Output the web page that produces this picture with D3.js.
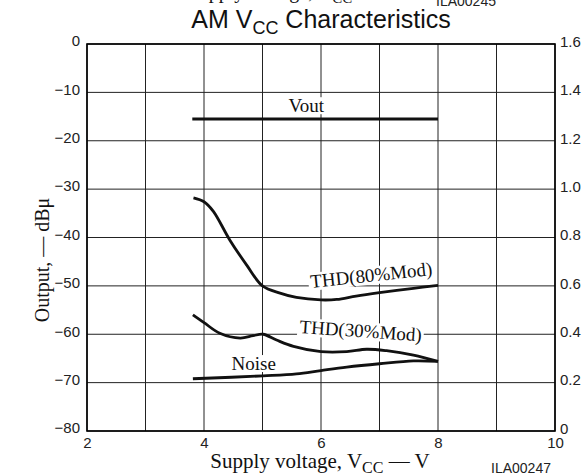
<!DOCTYPE html>
<html><head><meta charset="utf-8">
<script src="https://cdn.jsdelivr.net/npm/d3@7"></script>
<style>body{margin:0;background:#fff}svg{display:block}</style>
</head><body><svg id="c" width="584" height="475"></svg>
<script>
// ---- data ----
const xGrid = [2,3,4,5,6,7,8,9,10];
const xTickLabels = [2,4,6,8,10];
const yLeftTicks = [0,-10,-20,-30,-40,-50,-60,-70,-80];
const yRightTicks = [1.6,1.4,1.2,1.0,0.8,0.6,0.4,0.2,0];
const yRightLabels = ["1.6","1.4","1.2","1.0","0.8","0.6","0.4","0.2","0"];
const voutX = [3.8, 8.0];
const voutY = [-15.5, -15.5];
const thd80X = [3.82,4.0,4.16,4.44,4.73,5.0,5.3,5.58,6.0,6.27,6.6,7.0,7.58,8.0];
const thd80Y = [-31.8,-32.6,-34.6,-40.5,-45.7,-50.0,-51.5,-52.4,-52.9,-52.8,-52.1,-51.4,-50.5,-49.9];
const thd30X = [3.81,4.0,4.27,4.62,4.84,5.01,5.24,5.53,6.0,6.44,6.78,7.12,7.58,8.0];
const thd30Y = [-56.0,-57.6,-59.8,-60.8,-60.3,-60.0,-61.2,-62.5,-63.6,-63.6,-63.1,-63.4,-64.3,-65.6];
const noiseX = [3.81,5.01,5.58,6.0,6.44,7.0,7.58,8.0];
const noiseY = [-69.2,-68.6,-68.2,-67.5,-66.8,-66.1,-65.5,-65.6];
const labelText = ["Vout","THD(80%Mod)","THD(30%Mod)","Noise"];
const labelX = [5.75, 6.87, 6.67, 4.85];
const labelY = [-14.1, -49.1, -60.6, -67.4];
const labelRot = [0, -6, 4, 0];

// ---- layout ----
const L = 87, R = 555, T = 44, B = 431;
const svg = d3.select("#c");
const x = d3.scaleLinear().domain([2,10]).range([L,R]);
const y = d3.scaleLinear().domain([-80,0]).range([B,T]);
const y2 = d3.scaleLinear().domain([0,1.6]).range([B,T]);
const serif = "'Liberation Serif','Times New Roman',serif";
const sans = "'Liberation Sans',Arial,sans-serif";

// grid
svg.append("g").selectAll("line").data(xGrid).join("line")
  .attr("x1", d=>x(d)).attr("x2", d=>x(d)).attr("y1", T).attr("y2", B)
  .attr("stroke", "#222").attr("stroke-width", 1);
svg.append("g").selectAll("line").data(yLeftTicks).join("line")
  .attr("x1", L).attr("x2", R).attr("y1", d=>y(d)).attr("y2", d=>y(d))
  .attr("stroke", "#222").attr("stroke-width", 1);
svg.append("rect").attr("x", L).attr("y", T).attr("width", R-L).attr("height", B-T)
  .attr("fill", "none").attr("stroke", "#000").attr("stroke-width", 1.6);

// axes labels via d3 axes (no domain/ticks lines)
const axL = svg.append("g").attr("transform", `translate(${L},0)`)
  .call(d3.axisLeft(y).tickValues(yLeftTicks).tickSize(0).tickPadding(7).tickFormat(d=>d===0?"0":("\u2212"+Math.abs(d))));
const axR = svg.append("g").attr("transform", `translate(${R},0)`)
  .call(d3.axisRight(y2).tickValues(yRightTicks).tickSize(0).tickPadding(5).tickFormat((d,i)=>yRightLabels[i]));
const axB = svg.append("g").attr("transform", `translate(0,${B})`)
  .call(d3.axisBottom(x).tickValues(xTickLabels).tickSize(0).tickPadding(6));
[axL, axR, axB].forEach(a => {
  a.select(".domain").remove();
  a.selectAll("text").attr("font-family", sans).attr("font-size", 15).attr("fill", "#222");
});
axL.selectAll("text").attr("dy", "0.12em");
axR.selectAll("text").attr("dy", "0.15em");

// curves
const line = d3.line().x(d=>x(d[0])).y(d=>y(d[1])).curve(d3.curveCatmullRom.alpha(0.5));
const series = [[voutX,voutY],[thd80X,thd80Y],[thd30X,thd30Y],[noiseX,noiseY]];
series.forEach(([xs,ys]) => {
  svg.append("path").datum(xs.map((v,i)=>[v,ys[i]])).attr("d", line)
    .attr("fill", "none").attr("stroke", "#111").attr("stroke-width", 2.8)
    .attr("stroke-linecap", "butt");
});

// labels with white boxes
labelText.forEach((t,i) => {
  const g = svg.append("g").attr("transform", `translate(${x(labelX[i])},${y(labelY[i])}) rotate(${labelRot[i]})`);
  const tx = g.append("text").text(t).attr("text-anchor", "middle")
    .attr("font-family", serif).attr("font-size", 19).attr("fill", "#111");
  const bb = tx.node().getBBox();
  g.insert("rect", "text").attr("x", bb.x-2).attr("y", bb.y+2).attr("width", bb.width+4).attr("height", bb.height-4).attr("fill", "#fff");
});

// title
const title = svg.append("text").attr("x", 321).attr("y", 28).attr("text-anchor", "middle")
  .attr("font-family", sans).attr("font-size", 25).attr("fill", "#111");
title.append("tspan").text("AM V");
title.append("tspan").text("CC").attr("font-size", 18).attr("dy", 6);
title.append("tspan").text(" Characteristics").attr("dy", -6);

// cut-off text at top (remnant of previous figure)
const topT = svg.append("text").attr("x", 292).attr("y", -2).attr("text-anchor", "middle")
  .attr("font-family", serif).attr("font-size", 20).attr("fill", "#111");
topT.append("tspan").text("Supply voltage, V");
topT.append("tspan").text("CC").attr("font-size", 15).attr("dy", 5);
topT.append("tspan").text(" \u2014 V").attr("dy", -5);
svg.append("text").attr("x", 466).attr("y", 6).attr("text-anchor", "middle")
  .attr("font-family", sans).attr("font-size", 14).attr("fill", "#222").text("ILA00245");

// axis titles
const xt = svg.append("text").attr("x", 320).attr("y", 468).attr("text-anchor", "middle")
  .attr("font-family", serif).attr("font-size", 21).attr("fill", "#111");
xt.append("tspan").text("Supply voltage, V");
xt.append("tspan").text("CC").attr("font-size", 16).attr("dy", 5);
xt.append("tspan").text(" \u2014 V").attr("dy", -5);
svg.append("text").attr("x", 521).attr("y", 473).attr("text-anchor", "middle")
  .attr("font-family", sans).attr("font-size", 14).attr("fill", "#222").text("ILA00247");
svg.append("text").attr("transform", "translate(49,260) rotate(-90)").attr("text-anchor", "middle")
  .attr("font-family", serif).attr("font-size", 20).attr("fill", "#111").text("Output, \u2014 dB\u03bc");
</script></body></html>
